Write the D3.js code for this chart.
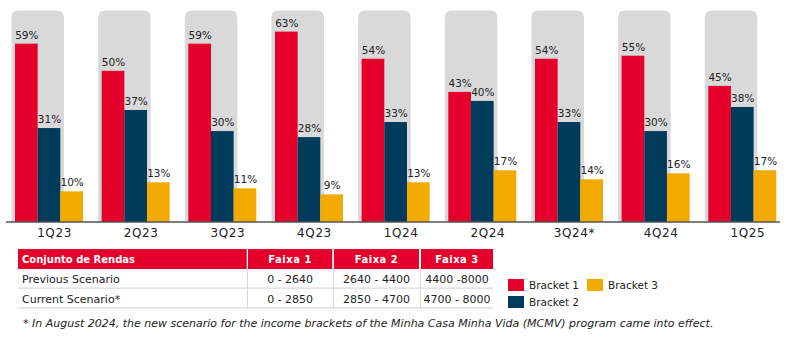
<!DOCTYPE html>
<html><head><meta charset="utf-8">
<script src="https://cdn.jsdelivr.net/npm/d3@7"></script>
<style>
html,body{margin:0;padding:0;background:#fff;}
svg{display:block;font-family:"DejaVu Sans",sans-serif;}
</style></head>
<body><svg id="c" width="786" height="337"></svg>
<script>
const categories = ["1Q23","2Q23","3Q23","4Q23","1Q24","2Q24","3Q24*","4Q24","1Q25"];
const seriesNames = ["Bracket 1","Bracket 2","Bracket 3"];
const bracket1 = [59,50,59,63,54,43,54,55,45];
const bracket2 = [31,37,30,28,33,40,33,30,38];
const bracket3 = [10,13,11,9,13,17,14,16,17];
const colors = ["#E4002B","#003B5C","#F2A900"];
const tableHeader = ["Conjunto de Rendas","Faixa 1","Faixa 2","Faixa 3"];
const tableRows = [
  ["Previous Scenario","0 - 2640","2640 - 4400","4400 -8000"],
  ["Current Scenario*","0 - 2850","2850 - 4700","4700 - 8000"]
];
const footnote = "* In August 2024, the new scenario for the income brackets of the Minha Casa Minha Vida (MCMV) program came into effect.";
const bgMax = 70;

const svg = d3.select("#c");
const values = [bracket1, bracket2, bracket3];

const x = d3.scaleBand().domain(categories).range([11, 11 + 9*86.66]).paddingInner(0).paddingOuter(0);
const xs = d3.scaleBand().domain(seriesNames).range([4, 72]);
const y = d3.scaleLinear().domain([0, 70]).range([221.5, 10.5]);

const g = svg.append("g");
g.selectAll("path.bg").data(categories).join("path")
  .attr("class","bg")
  .attr("fill","#D9D9D9")
  .attr("d", c => {
    const x0 = x(c)+0.5, w = 52.5, y0 = y(bgMax), y1 = y(0), r = 7;
    return `M${x0},${y1} V${y0+r} Q${x0},${y0} ${x0+r},${y0} H${x0+w-r} Q${x0+w},${y0} ${x0+w},${y0+r} V${y1} Z`;
  });

categories.forEach((c, i) => {
  seriesNames.forEach((s, j) => {
    const v = values[j][i];
    g.append("rect")
      .attr("x", x(c) + xs(s))
      .attr("y", y(v))
      .attr("width", xs.bandwidth())
      .attr("height", y(0) - y(v))
      .attr("fill", colors[j]);
    g.append("text")
      .attr("x", x(c) + xs(s) + xs.bandwidth()/2 + 0.5)
      .attr("y", y(v) - 5)
      .attr("text-anchor","middle")
      .attr("font-size","10.5px")
      .attr("fill","#222")
      .text(v + "%");
  });
});

const axis = d3.axisBottom(x).tickSize(0).tickPadding(0);
const ax = svg.append("g").attr("transform", `translate(0,${y(0)})`).call(axis);
ax.select(".domain").remove();
svg.append("line").attr("x1",6).attr("x2",780).attr("y1",y(0)+0.5).attr("y2",y(0)+0.5).attr("stroke","#000").attr("stroke-width",1);
ax.selectAll(".tick").attr("transform", d => `translate(${x(d)+43.5},0)`);
ax.selectAll(".tick text").attr("y", 15).attr("dy", 0).attr("font-size","12px")
  .attr("font-family","DejaVu Sans, sans-serif").attr("fill","#222").attr("letter-spacing","0.6px");

const colX = [18, 248, 334, 421];
const colW = [228.7, 84.3, 85, 72];
const t = svg.append("g");
const hy = 249, hh = 20, rh = 19.7;
tableHeader.forEach((h, k) => {
  t.append("rect").attr("x", colX[k]).attr("y", hy).attr("width", colW[k]).attr("height", hh).attr("fill", "#E4002B");
  t.append("text")
    .attr("x", k === 0 ? colX[k] + 4 : colX[k] + colW[k]/2)
    .attr("y", hy + hh/2 + 4)
    .attr("text-anchor", k === 0 ? "start" : "middle")
    .attr("font-size","10px").attr("font-weight","bold").attr("fill","#fff")
    .attr("letter-spacing", k === 0 ? "0px" : "0.5px")
    .text(h);
});
tableRows.forEach((row, r) => {
  const ry = hy + hh + r*rh;
  t.append("line").attr("x1", colX[0]).attr("x2", colX[3]+colW[3]).attr("y1", ry + rh - 0.5).attr("y2", ry + rh - 0.5)
    .attr("stroke","#D9D9D9").attr("stroke-width",1.2);
  [1,2,3].forEach(k => {
    t.append("line").attr("x1", colX[k]-0.5).attr("x2", colX[k]-0.5).attr("y1", ry).attr("y2", ry+rh)
      .attr("stroke","#D9D9D9").attr("stroke-width",1);
  });
  row.forEach((cell, k) => {
    t.append("text")
      .attr("x", k === 0 ? colX[k] + 4 : colX[k] + colW[k]/2)
      .attr("y", ry + rh/2 + 4)
      .attr("text-anchor", k === 0 ? "start" : "middle")
      .attr("font-size","11px").attr("fill","#222")
      .text(cell);
  });
});

svg.append("text").attr("x", 23).attr("y", 327).attr("font-size","11px").attr("font-style","italic")
  .attr("fill","#222").text(footnote);

const legendPos = [[508, 279],[508, 296],[587, 279]];
seriesNames.forEach((s, j) => {
  const [lx, ly] = legendPos[j];
  svg.append("rect").attr("x", lx).attr("y", ly).attr("width", 16).attr("height", 12).attr("fill", colors[j]);
  svg.append("text").attr("x", lx + 21).attr("y", ly + 10).attr("font-size","10.5px").attr("fill","#222").text(s);
});
</script>
</body></html>
